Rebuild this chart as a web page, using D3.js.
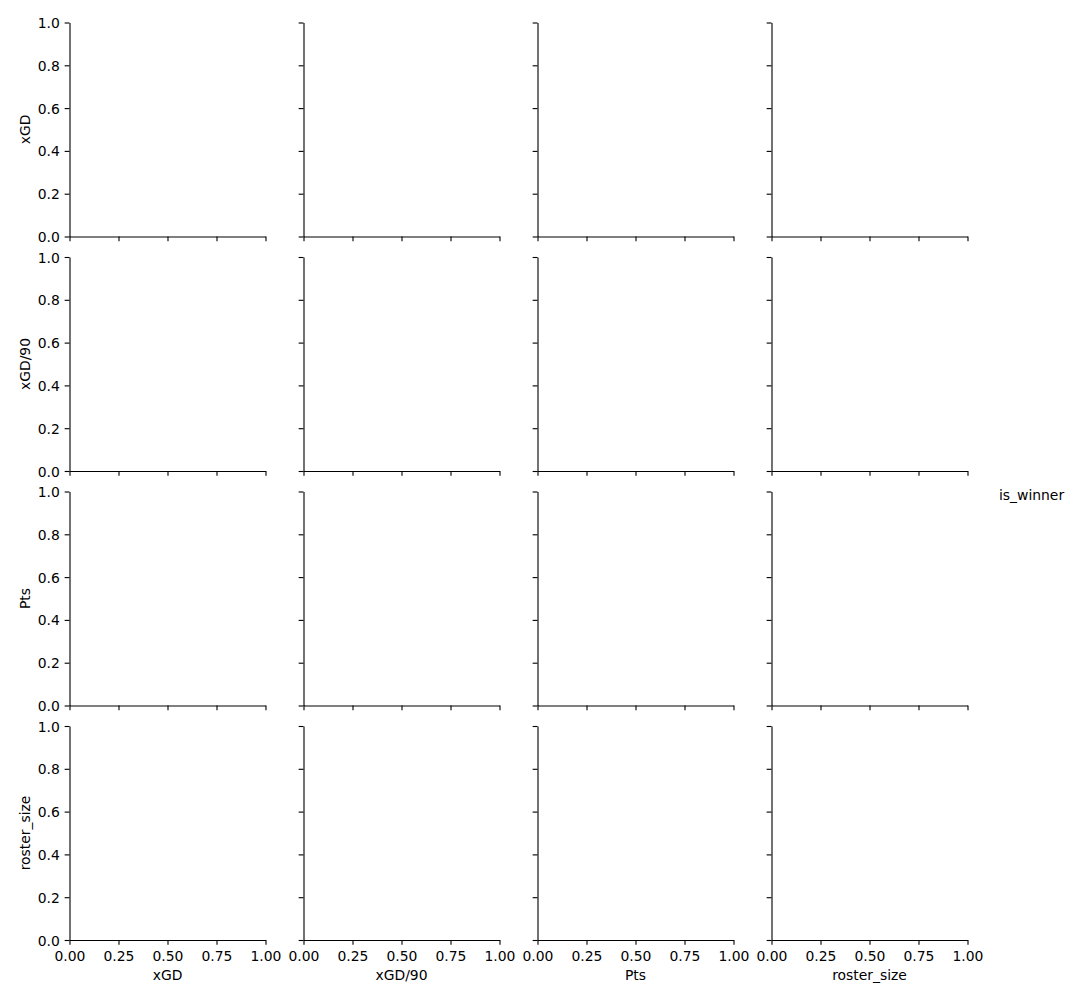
<!DOCTYPE html>
<html>
<head>
<meta charset="utf-8">
<script src="https://cdn.jsdelivr.net/npm/d3@7"></script>
<style>
  html, body { margin: 0; padding: 0; background: #fff; }
  svg { display: block; }
  text { font-family: "DejaVu Sans", sans-serif; fill: #000; }
</style>
</head>
<body>
<div id="chart"></div>
<script>
// ---- data (empty pair grid: only variable names and default ticks) ----
const variables = ["xGD", "xGD/90", "Pts", "roster_size"];
const xTickValues = [0, 0.25, 0.5, 0.75, 1.0];
const yTickValues = [0, 0.2, 0.4, 0.6, 0.8, 1.0];
const axisDomain = [0, 1];
const hueTitle = "is_winner";

// ---- layout ----
const W = 1076, H = 1000;
const left0 = 69.5, colStep = 234, panelW = 196;
const top0 = 22.5, rowStep = 234.5, panelH = 214;
const tickLen = 4.86, tickPad = 4.86, lw = 1.11, fs = 13.9;

const svg = d3.select("#chart").append("svg")
  .attr("width", W).attr("height", H)
  .attr("viewBox", `0 0 ${W} ${H}`);

variables.forEach((rowVar, r) => {
  variables.forEach((colVar, c) => {
    const x0 = left0 + c * colStep;
    const y0 = top0 + r * rowStep;
    const x = d3.scaleLinear().domain(axisDomain).range([0, panelW]);
    const y = d3.scaleLinear().domain(axisDomain).range([panelH, 0]);
    const g = svg.append("g").attr("transform", `translate(${x0},${y0})`);

    const yAxis = d3.axisLeft(y).tickValues(yTickValues)
      .tickSize(tickLen).tickSizeOuter(0).tickPadding(tickPad)
      .tickFormat(c === 0 ? d3.format(".1f") : () => "");
    const xAxis = d3.axisBottom(x).tickValues(xTickValues)
      .tickSize(tickLen).tickSizeOuter(0).tickPadding(tickPad)
      .tickFormat(r === variables.length - 1 ? d3.format(".2f") : () => "");

    const ya = g.append("g").call(yAxis);
    const xa = g.append("g").attr("transform", `translate(0,${panelH})`).call(xAxis);

    [ya, xa].forEach(a => {
      a.attr("font-family", null).attr("font-size", null);
      a.selectAll("path.domain").attr("stroke", "#000").attr("stroke-width", lw);
      a.selectAll(".tick line").attr("stroke", "#000").attr("stroke-width", lw);
      a.selectAll(".tick text").style("font-size", fs + "px").attr("fill", "#000");
    });
    xa.selectAll(".tick text").attr("dy", null).attr("y", 21)
      .attr("dominant-baseline", "alphabetic");
    ya.selectAll(".tick text").attr("dy", "0.36em");

    if (r === variables.length - 1) {
      g.append("text")
        .attr("x", panelW / 2).attr("y", panelH + 40)
        .attr("text-anchor", "middle")
        .style("font-size", fs + "px")
        .text(colVar);
    }
    if (c === 0) {
      g.append("text")
        .attr("transform", `translate(${30 - x0},${panelH / 2}) rotate(-90)`)
        .attr("text-anchor", "middle")
        .style("font-size", fs + "px")
        .text(rowVar);
    }
  });
});

// legend title (no hue levels present)
svg.append("text")
  .attr("x", 999).attr("y", 500)
  .style("font-size", fs + "px")
  .text(hueTitle);
</script>
</body>
</html>
